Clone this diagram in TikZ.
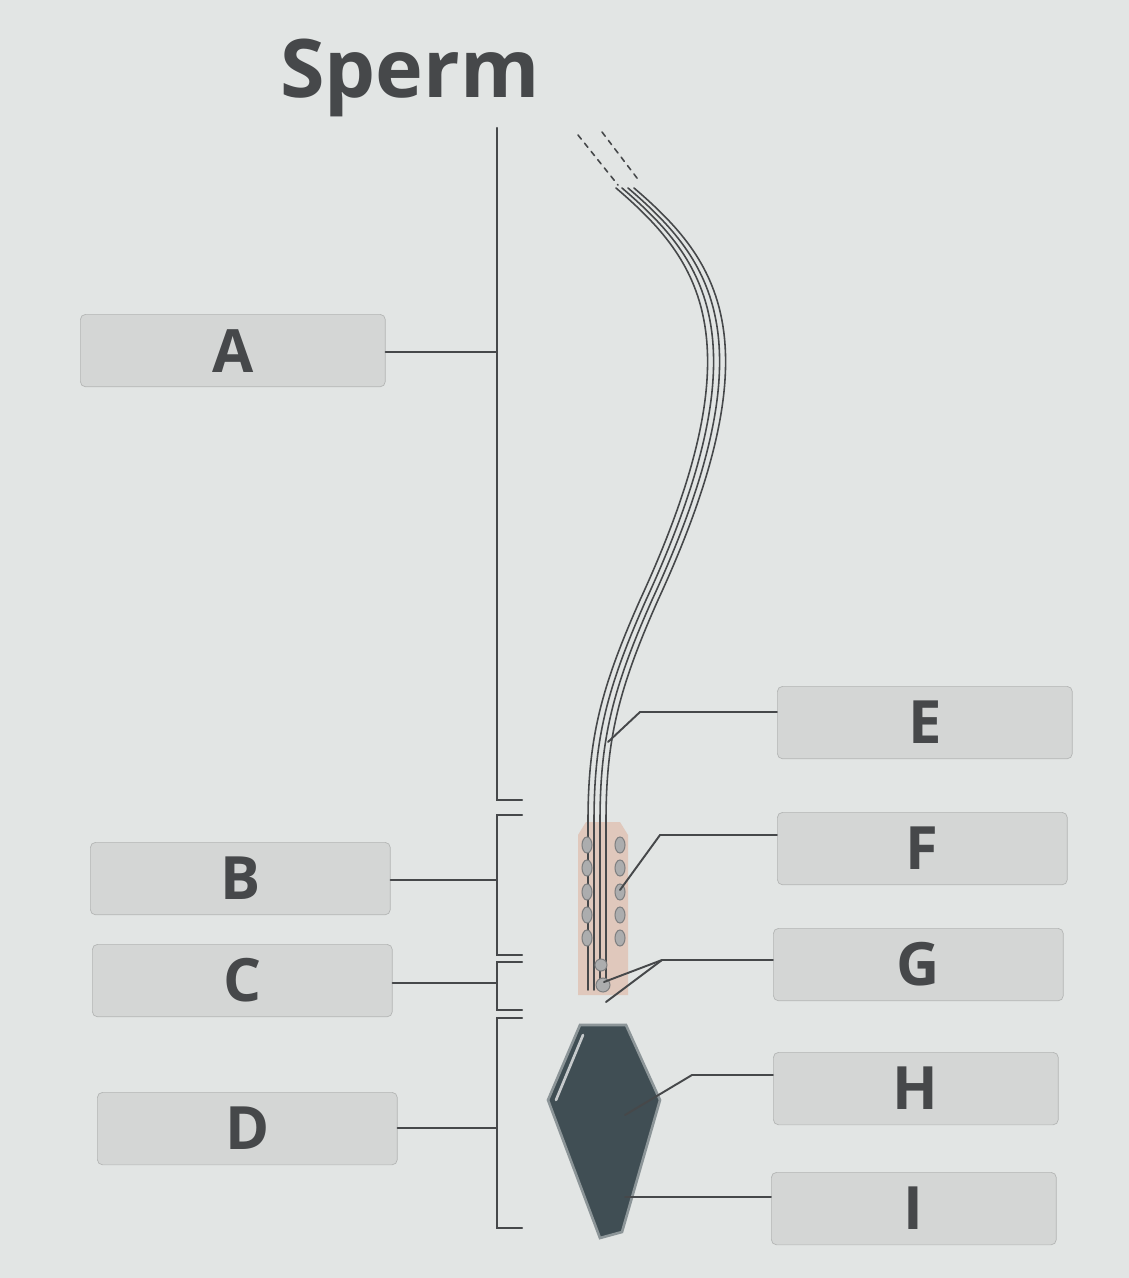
\documentclass[tikz,border=0pt]{standalone}
\usepackage{fontspec}
\setmainfont{Open Sans}
\definecolor{paper}{RGB}{226,229,228}
\definecolor{boxgr}{RGB}{212,214,213}
\definecolor{ink}{RGB}{70,72,74}
\definecolor{midp}{RGB}{224,200,188}
\definecolor{headc}{RGB}{64,78,84}
\begin{document}
\begin{tikzpicture}[x=0.02cm,y=-0.02cm,line cap=round]
	\tikzstyle{lbl}=[draw=boxgr!85!black,fill=boxgr,rounded corners=3pt,minimum height=1.45cm,font=\bfseries\fontsize{34}{34}\selectfont,text=ink,anchor=north west,inner sep=0pt];
	\tikzstyle{lead}=[ink,line width=1.1pt];
	\tikzstyle{brace}=[ink,line width=1.4pt];
	\tikzstyle{fib}=[ink,line width=0.9pt];
	\tikzstyle{mito}=[draw=ink!70,fill=ink!45,line width=0.6pt];
%<--------------------------------------------------------------------------->%
	\fill[paper] (0,0) rectangle (1129,1278);
	\node[font=\bfseries\fontsize{46}{46}\selectfont,text=ink] (title) at (410,78) {Sperm};
	%% Boxes
	\node[lbl,minimum width=6.1cm] (A) at (80,314) {A};
	\node[lbl,minimum width=6.0cm] (B) at (90,842) {B};
	\node[lbl,minimum width=6.0cm] (C) at (92,944) {C};
	\node[lbl,minimum width=6.0cm] (D) at (97,1092) {D};
	\node[lbl,minimum width=5.9cm] (E) at (777,686) {E};
	\node[lbl,minimum width=5.8cm] (F) at (777,812) {F};
	\node[lbl,minimum width=5.8cm] (G) at (773,928) {G};
	\node[lbl,minimum width=5.7cm] (H) at (773,1052) {H};
	\node[lbl,minimum width=5.7cm] (I) at (771,1172) {I};
	%% Brackets
	\draw[brace] (497,128) -- (497,800) -- (522,800);
	\draw[brace] (522,815) -- (497,815) -- (497,955) -- (522,955);
	\draw[brace] (522,962) -- (497,962) -- (497,1010) -- (522,1010);
	\draw[brace] (522,1018) -- (497,1018) -- (497,1228) -- (522,1228);
	\coordinate (a) at (497,352);
	\coordinate (b) at (497,880);
	\coordinate (c) at (497,983);
	\coordinate (d) at (497,1128);
	\draw[lead] (a -| A.east) -- (a);
	\draw[lead] (b -| B.east) -- (b);
	\draw[lead] (c -| C.east) -- (c);
	\draw[lead] (d -| D.east) -- (d);
	%% Tail
	\draw[fib,dashed] (578,135) -- (618,185);
	\draw[fib,dashed] (602,132) -- (640,182);
	\foreach \dx in {0,6,12,18}
		\draw[fib] (616+\dx,188) .. controls (700+\dx,260) and (760+\dx,340) .. (640+\dx,600)
			.. controls (600+\dx,690) and (588+\dx,740) .. (588+\dx,822);
	%% Midpiece
	\fill[midp] (586,822) -- (620,822) -- (628,835) -- (628,995) -- (578,995) -- (578,835) -- cycle;
	\foreach \dx in {0,6,12,18} \draw[fib] (588+\dx,822) -- (588+\dx,990);
	\foreach \y in {845,868,892,915,938} {
		\draw[mito] (587,\y) ellipse (5 and 8);
		\draw[mito] (620,\y) ellipse (5 and 8);
	}
	\draw[mito] (601,965) circle (6);
	\draw[mito] (603,985) circle (7);
	%% Head
	\filldraw[headc,draw=headc!60,line width=1.5pt] (580,1025) -- (626,1025) -- (660,1100) -- (622,1232) -- (600,1238) -- (548,1100) -- cycle;
	\draw[white!70!headc,line width=1.5pt] (583,1035) -- (556,1100);
	%% Leaders right
	\coordinate (e1) at (640,712);  \coordinate (e) at (608,742);
	\coordinate (f1) at (660,835);  \coordinate (f) at (620,890);
	\coordinate (g1) at (662,960);  \coordinate (g) at (604,982); \coordinate (g2) at (606,1002);
	\coordinate (h1) at (692,1075); \coordinate (h) at (625,1115);
	\coordinate (i) at (625,1197);
	\draw[lead] (e1 -| E.west) -- (e1) -- (e);
	\draw[lead] (f1 -| F.west) -- (f1) -- (f);
	\draw[lead] (g1 -| G.west) -- (g1) -- (g);
	\draw[lead] (g1) -- (g2);
	\draw[lead] (h1 -| H.west) -- (h1) -- (h);
	\draw[lead] (i -| I.west) -- (i);
\end{tikzpicture}
\end{document}
